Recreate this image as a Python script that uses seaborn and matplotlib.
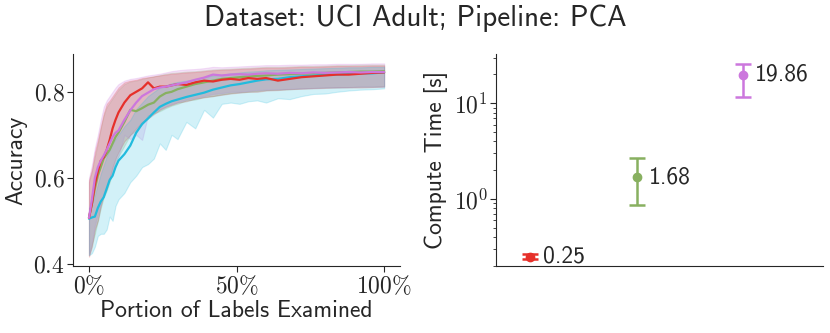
import numpy as np
import pandas as pd
import matplotlib
matplotlib.use("Agg")
import matplotlib.pyplot as plt
from matplotlib.ticker import FuncFormatter, FixedLocator
import seaborn as sns

# data
portion = [0, .01, .02, .03, .04, .05, .06, .07, .08, .09, .10, .12, .14, .16, .18, .20,
           .22, .24, .26, .28, .30, .33, .36, .39, .42, .45, .48, .51, .54, .57, .60,
           .64, .68, .72, .76, .80, .84, .88, .92, .96, 1.00]

red_mean = [.507, .54, .585, .615, .64, .648, .665, .688, .715, .735, .752, .775, .792, .800, .808, .822,
            .808, .812, .812, .815, .818, .816, .822, .826, .824, .828, .830, .828, .832, .830, .832,
            .826, .830, .834, .836, .838, .840, .840, .842, .844, .845]
red_lo = [.417, .44, .48, .50, .535, .56, .575, .60, .625, .645, .66, .685, .70, .715, .73, .738,
          .748, .758, .765, .77, .775, .778, .784, .787, .79, .793, .796, .798, .80, .80, .803,
          .804, .806, .807, .808, .809, .81, .81, .81, .811, .812]
red_hi = [.595, .62, .66, .688, .72, .75, .772, .78, .79, .80, .81, .822, .826, .828, .832, .834,
          .836, .838, .840, .842, .843, .845, .846, .848, .850, .851, .852, .853, .854, .855, .856,
          .856, .857, .858, .858, .859, .86, .86, .86, .861, .861]

green_mean = [.507, .54, .575, .605, .625, .645, .655, .665, .68, .695, .705, .73, .758, .755, .762, .77,
              .775, .789, .797, .80, .806, .812, .818, .822, .826, .83, .832, .834, .836, .837, .838,
              .84, .841, .842, .843, .844, .845, .846, .847, .847, .848]
green_lo = [.42, .445, .47, .50, .53, .555, .57, .59, .615, .635, .65, .675, .70, .71, .725, .745,
            .75, .755, .762, .768, .772, .78, .782, .788, .79, .794, .797, .799, .80, .802, .804,
            .805, .806, .808, .809, .81, .81, .811, .812, .812, .813]
green_hi = [.59, .615, .65, .68, .715, .745, .765, .775, .785, .795, .805, .818, .824, .826, .83, .833,
            .836, .839, .842, .844, .845, .847, .848, .85, .852, .853, .854, .855, .856, .857, .858,
            .858, .859, .86, .86, .861, .862, .862, .863, .863, .863]

purple_mean = [.507, .55, .60, .625, .64, .652, .665, .68, .695, .705, .71, .735, .757, .775, .79, .798,
               .806, .81, .812, .815, .818, .822, .828, .833, .84, .838, .840, .841, .840, .842, .843,
               .842, .844, .843, .845, .844, .845, .846, .845, .846, .846]
purple_lo = [.42, .45, .49, .515, .54, .565, .58, .60, .62, .64, .65, .70, .69, .70, .688, .745,
             .752, .76, .766, .772, .776, .782, .786, .79, .795, .797, .80, .80, .802, .804, .805,
             .806, .807, .808, .809, .81, .81, .811, .812, .812, .812]
purple_hi = [.60, .63, .67, .70, .735, .765, .78, .79, .80, .81, .818, .826, .83, .832, .835, .838,
             .84, .842, .845, .848, .85, .852, .853, .855, .858, .857, .858, .859, .86, .861, .862,
             .862, .863, .863, .864, .864, .865, .865, .865, .866, .866]

cyan_mean = [.505, .508, .51, .53, .545, .555, .575, .595, .605, .625, .64, .655, .675, .705, .725, .738,
             .752, .765, .772, .778, .782, .788, .793, .798, .805, .81, .815, .818, .822, .826, .829,
             .83, .834, .836, .838, .84, .84, .842, .843, .843, .845]
cyan_lo = [.42, .425, .44, .465, .47, .47, .48, .51, .50, .535, .55, .565, .59, .605, .625, .632,
           .645, .68, .665, .70, .69, .73, .715, .758, .74, .772, .775, .772, .778, .78, .775,
           .785, .783, .79, .795, .796, .80, .803, .805, .806, .808]
cyan_hi = [.53, .54, .56, .585, .61, .63, .65, .665, .68, .69, .70, .72, .735, .76, .775, .79,
           .80, .81, .815, .82, .823, .826, .83, .834, .838, .84, .843, .845, .847, .848, .85,
           .851, .852, .853, .854, .855, .856, .857, .857, .858, .858]

methods = ["red", "green", "purple"]
times = [0.25, 1.68, 19.86]
time_lo = [0.235, 0.86, 11.6]
time_hi = [0.265, 2.7, 25.7]

colors = {"red": "#e6302a", "green": "#88b060", "purple": "#cc77dd", "cyan": "#22bbdd"}

sns.set_style("ticks")
plt.rcParams["font.family"] = ["cmss10", "DejaVu Sans"]
plt.rcParams["mathtext.fontset"] = "cm"
plt.rcParams["axes.unicode_minus"] = False

fig = plt.figure(figsize=(8.3, 3.33), dpi=100)
ax1 = fig.add_axes([0.088, 0.201, 0.394, 0.637])
ax2 = fig.add_axes([0.598, 0.201, 0.393, 0.637])

series = {
    "red": (red_mean, red_lo, red_hi),
    "green": (green_mean, green_lo, green_hi),
    "purple": (purple_mean, purple_lo, purple_hi),
    "cyan": (cyan_mean, cyan_lo, cyan_hi),
}
rows = []
for name, (m, lo, hi) in series.items():
    for p, v, a, b in zip(portion, m, lo, hi):
        rows.append({"method": name, "portion": p, "acc": v, "lo": a, "hi": b})
df = pd.DataFrame(rows)

for name in ["green", "red", "purple", "cyan"]:
    d = df[df.method == name]
    ax1.fill_between(d.portion, d.lo, d.hi, color=colors[name], alpha=0.2, lw=0.8)
for name in ["cyan", "green", "red", "purple"]:
    d = df[df.method == name]
    sns.lineplot(data=d, x="portion", y="acc", color=colors[name], lw=1.6, ax=ax1)

ax1.set_xlim(-0.054, 1.054)
ax1.set_ylim(0.395, 0.888)
ax1.xaxis.set_major_locator(FixedLocator([0, 0.5, 1.0]))
ax1.yaxis.set_major_locator(FixedLocator([0.4, 0.6, 0.8]))
ax1.xaxis.set_major_formatter(FuncFormatter(lambda v, p: r"$%d\%%$" % round(v * 100)))
ax1.yaxis.set_major_formatter(FuncFormatter(lambda v, p: r"$%.1f$" % v))
ax1.set_xlabel("Portion of Labels Examined", fontsize=17, labelpad=1)
ax1.set_ylabel("Accuracy", fontsize=17, labelpad=4)
ax1.tick_params(labelsize=17, length=4, pad=2)

# compute time
xpos = np.arange(len(methods))
for i, name in enumerate(methods):
    ax2.errorbar(xpos[i], times[i], yerr=[[times[i] - time_lo[i]], [time_hi[i] - times[i]]],
                 fmt="o", color=colors[name], ms=6, elinewidth=1.8, capsize=6, capthick=1.8)
    ax2.annotate(f"{times[i]:.2f}", (xpos[i], times[i]), xytext=(9, 0),
                 textcoords="offset points", va="center", ha="left", fontsize=17)
ax2.set_yscale("log")
ax2.set_xlim(-0.32, 2.75)
ax2.set_ylim(0.2, 32.7)
ax2.set_xticks([])
ax2.yaxis.set_major_locator(FixedLocator([1, 10]))
ax2.yaxis.set_major_formatter(FuncFormatter(lambda v, p: r"$10^{%d}$" % round(np.log10(v))))
ax2.set_ylabel("Compute Time [s]", fontsize=17, labelpad=4)
ax2.tick_params(axis="y", labelsize=17, length=4, pad=2)
ax2.tick_params(axis="y", which="minor", length=2.5)

sns.despine(fig=fig)
fig.suptitle("Dataset: UCI Adult; Pipeline: PCA", fontsize=21, y=0.985)
fig.savefig("out.png", dpi=100)
